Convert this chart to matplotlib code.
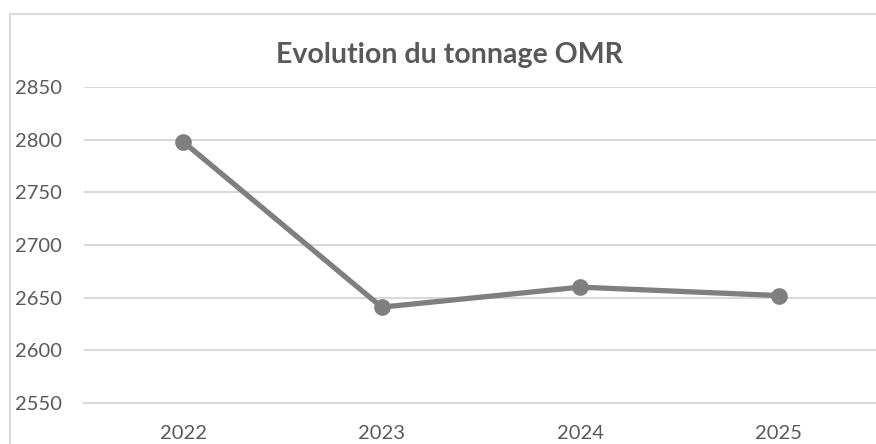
import matplotlib.pyplot as plt
from matplotlib.patches import Rectangle

years = ['2022', '2023', '2024', '2025']
tonnage = [2798, 2641, 2660, 2652]
y_ticks = [2550, 2600, 2650, 2700, 2750, 2800, 2850]

text_grey = '#595959'
grid_grey = '#d9d9d9'
line_grey = '#7f7f7f'

plt.rcParams['font.family'] = ['Lato', 'DejaVu Sans']

fig = plt.figure(figsize=(8.76, 4.44), dpi=100)

# chart frame (cut off on right and bottom like the screenshot)
fig.patches.append(Rectangle((10 / 876, -0.1), 1.0, 1 - 14 / 444 + 0.1,
                             transform=fig.transFigure, fill=False,
                             edgecolor=grid_grey, linewidth=1.5))

ax = fig.add_axes([84 / 876, 1 - 403 / 444, 1 - 84 / 876 + 0.002, (403 - 87) / 444])
x = range(len(years))
ax.plot(x, tonnage, color=line_grey, linewidth=3.8, marker='o',
        markersize=11, solid_capstyle='round', zorder=3)

ax.set_xlim(-0.5, len(years) - 0.5)
ax.set_ylim(2550, 2850)
ax.set_yticks(y_ticks)
ax.set_xticks(list(x))
ax.set_xticklabels(years)
ax.grid(axis='y', color=grid_grey, linewidth=1.5)
ax.set_axisbelow(True)
for side in ['top', 'right', 'left']:
    ax.spines[side].set_visible(False)
ax.spines['bottom'].set_color(grid_grey)
ax.spines['bottom'].set_linewidth(1.5)
ax.tick_params(length=0, labelsize=14.5, colors=text_grey)
ax.tick_params(axis='y', pad=16)
ax.tick_params(axis='x', pad=16)

fig.text(449 / 876, 1 - 55 / 444, 'Evolution du tonnage OMR', ha='center', va='center',
         fontsize=20.5, fontweight='bold', color=text_grey)

fig.savefig('out.png', dpi=100)
